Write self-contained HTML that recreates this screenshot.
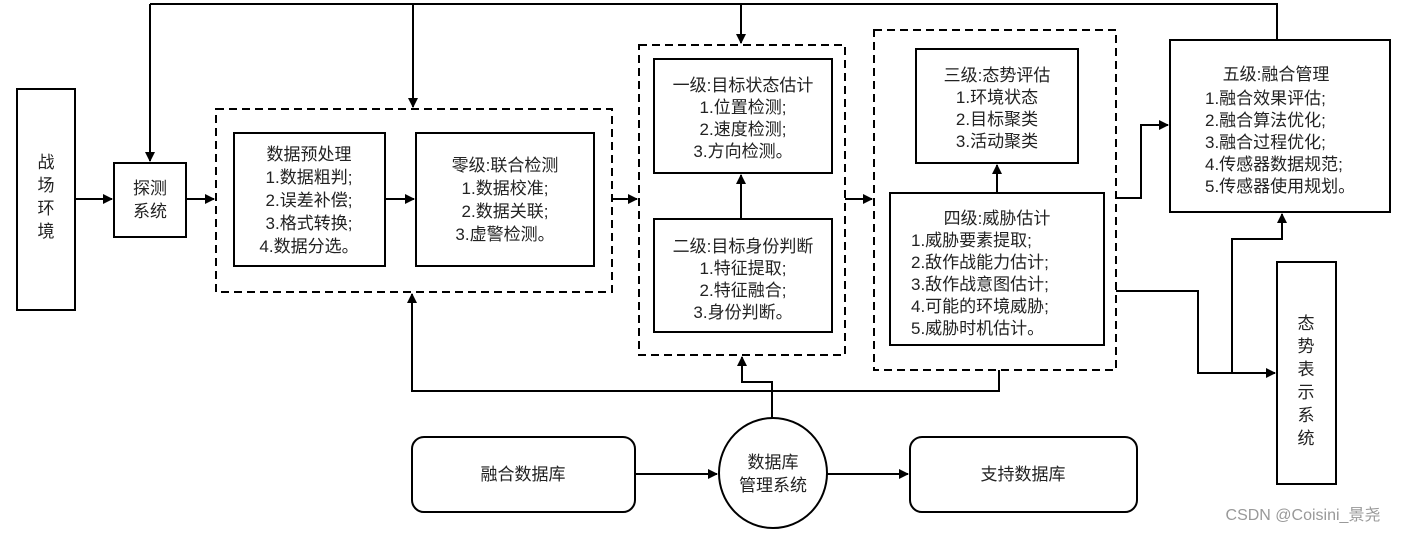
<!DOCTYPE html>
<html><head><meta charset="utf-8"><style>
body{margin:0;background:#fff;}
svg{display:block;font-family:"Liberation Sans","Noto Sans CJK SC",sans-serif;}
text{font-size:17px;fill:#222;text-anchor:middle;}
</style></head><body>
<svg width="1409" height="533" viewBox="0 0 1409 533" xmlns="http://www.w3.org/2000/svg">
<defs><marker id="a" markerWidth="10" markerHeight="10" refX="9" refY="5" orient="auto" markerUnits="userSpaceOnUse"><path d="M0,0 L10,5 L0,10 z" fill="#000"/></marker></defs>
<g fill="none" stroke="#000" stroke-width="2">
<!-- solid boxes -->
<rect x="17" y="89" width="58" height="221"/>
<rect x="114" y="163" width="72" height="74"/>
<rect x="234" y="133" width="151" height="133"/>
<rect x="416" y="133" width="178" height="133"/>
<rect x="654" y="59" width="178" height="114"/>
<rect x="654" y="219" width="178" height="113"/>
<rect x="916" y="49" width="162" height="114"/>
<rect x="890" y="193" width="214" height="152"/>
<rect x="1170" y="40" width="220" height="172"/>
<rect x="1277" y="262" width="59" height="222"/>
<rect x="412" y="437" width="223" height="75" rx="12"/>
<rect x="910" y="437" width="227" height="75" rx="12"/>
<ellipse cx="773" cy="473" rx="54" ry="55"/>
<!-- dashed -->
<g stroke-dasharray="8,5">
<rect x="216" y="109" width="396" height="183"/>
<rect x="639" y="45" width="206" height="310"/>
<rect x="874" y="30" width="242" height="340"/>
</g>
<!-- connectors -->
<path d="M150 4 H1277 V40"/>
<path d="M150 4 V161" marker-end="url(#a)"/>
<path d="M413 4 V107" marker-end="url(#a)"/>
<path d="M741 4 V43" marker-end="url(#a)"/>
<path d="M75 199 H112" marker-end="url(#a)"/>
<path d="M186 199 H214" marker-end="url(#a)"/>
<path d="M385 199 H414" marker-end="url(#a)"/>
<path d="M612 199 H637" marker-end="url(#a)"/>
<path d="M845 199 H872" marker-end="url(#a)"/>
<path d="M741 219 V175" marker-end="url(#a)"/>
<path d="M997 193 V165" marker-end="url(#a)"/>
<path d="M1116 198 H1141 V125 H1168" marker-end="url(#a)"/>
<path d="M1116 291 H1198 V373 H1275" marker-end="url(#a)"/>
<path d="M1232 373 V239 H1282 V214" marker-end="url(#a)"/>
<path d="M999 370 V391 H412 V294" marker-end="url(#a)"/>
<path d="M772 418 V382 H742 V357" marker-end="url(#a)"/>
<path d="M635 474 H717" marker-end="url(#a)"/>
<path d="M827 474 H908" marker-end="url(#a)"/>
</g>
<!-- texts -->
<text x="46" y="168">战</text><text x="46" y="191">场</text><text x="46" y="214">环</text><text x="46" y="237">境</text>
<text x="150" y="194">探测</text><text x="150" y="217">系统</text>
<text x="309" y="160">数据预处理</text>
<text x="309" y="183">1.数据粗判;</text><text x="309" y="206">2.误差补偿;</text><text x="309" y="229">3.格式转换;</text><text x="309" y="252">4.数据分选。</text>
<text x="505" y="171">零级:联合检测</text>
<text x="505" y="194">1.数据校准;</text><text x="505" y="217">2.数据关联;</text><text x="505" y="240">3.虚警检测。</text>
<text x="743" y="91">一级:目标状态估计</text>
<text x="743" y="113">1.位置检测;</text><text x="743" y="135">2.速度检测;</text><text x="743" y="157">3.方向检测。</text>
<text x="743" y="252">二级:目标身份判断</text>
<text x="743" y="274">1.特征提取;</text><text x="743" y="296">2.特征融合;</text><text x="743" y="318">3.身份判断。</text>
<text x="997" y="81">三级:态势评估</text>
<text x="997" y="103">1.环境状态</text><text x="997" y="125">2.目标聚类</text><text x="997" y="147">3.活动聚类</text>
<text x="997" y="224">四级:威胁估计</text>
<g style="text-anchor:start"><text x="911" y="246" style="text-anchor:start">1.威胁要素提取;</text><text x="911" y="268" style="text-anchor:start">2.敌作战能力估计;</text><text x="911" y="290" style="text-anchor:start">3.敌作战意图估计;</text><text x="911" y="312" style="text-anchor:start">4.可能的环境威胁;</text><text x="911" y="334" style="text-anchor:start">5.威胁时机估计。</text></g>
<text x="1276" y="80">五级:融合管理</text>
<text x="1205" y="104" style="text-anchor:start">1.融合效果评估;</text><text x="1205" y="126" style="text-anchor:start">2.融合算法优化;</text><text x="1205" y="148" style="text-anchor:start">3.融合过程优化;</text><text x="1205" y="170" style="text-anchor:start">4.传感器数据规范;</text><text x="1205" y="192" style="text-anchor:start">5.传感器使用规划。</text>
<text x="1306" y="329">态</text><text x="1306" y="352">势</text><text x="1306" y="375">表</text><text x="1306" y="398">示</text><text x="1306" y="421">系</text><text x="1306" y="444">统</text>
<text x="523" y="480">融合数据库</text>
<text x="1023" y="480">支持数据库</text>
<text x="773" y="468">数据库</text><text x="773" y="491">管理系统</text>
<text x="1303" y="520" style="fill:#999;font-size:16px">CSDN @Coisini_景尧</text>
</svg>
</body></html>
